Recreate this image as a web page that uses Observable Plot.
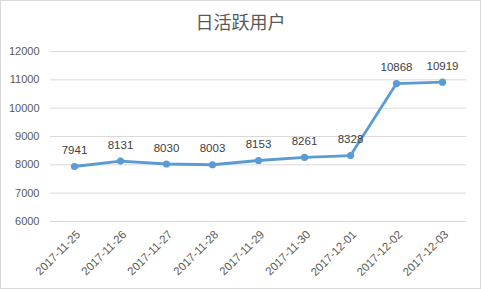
<!DOCTYPE html>
<html>
<head>
<meta charset="utf-8">
<script src="https://cdn.jsdelivr.net/npm/d3@7"></script>
<script src="https://cdn.jsdelivr.net/npm/@observablehq/plot@0.6"></script>
<style>
  html, body { margin: 0; padding: 0; background: #fff; }
  #frame { width: 481px; height: 289px; box-sizing: border-box; border: 1px solid #d9d9d9; background: #fff; overflow: hidden; }
  #title { height: 38px; line-height: 40px; text-align: center; font-family: "Noto Sans CJK SC", sans-serif; font-size: 18px; color: #595959; }
</style>
</head>
<body>
<div id="frame">
  <div id="title">日活跃用户</div>
  <div id="chart"></div>
</div>
<script>
const dates = ["2017-11-25","2017-11-26","2017-11-27","2017-11-28","2017-11-29","2017-11-30","2017-12-01","2017-12-02","2017-12-03"];
const users = [7941, 8131, 8030, 8003, 8153, 8261, 8328, 10868, 10919];
const yTicks = [6000, 7000, 8000, 9000, 10000, 11000, 12000];

const data = dates.map((d, i) => ({date: d, value: users[i]}));

const chart = Plot.plot({
  width: 479,
  height: 249,
  marginTop: 12,
  marginBottom: 67,
  marginLeft: 49,
  marginRight: 14,
  style: {fontFamily: "'Liberation Sans', Arial, sans-serif", fontSize: "11px", color: "#595959", background: "#fff"},
  x: {type: "point", domain: dates, padding: 0.5, label: null},
  y: {domain: [6000, 12000], ticks: yTicks, label: null},
  marks: [
    Plot.ruleY(yTicks, {stroke: "#d9d9d9", strokeWidth: 1}),
    Plot.axisY({ticks: yTicks, tickSize: 0, tickPadding: 11, label: null, tickFormat: d => String(d), fill: "#595959"}),
    Plot.axisX({tickSize: 0, tickPadding: 6, tickRotate: -45, label: null, fill: "#595959", fontSize: 11.5, dx: 4, dy: 5}),
    Plot.line(data, {x: "date", y: "value", stroke: "#5B9BD5", strokeWidth: 2.8}),
    Plot.dot(data, {x: "date", y: "value", r: 3.6, fill: "#5B9BD5", stroke: "none"}),
    Plot.text(data, {x: "date", y: "value", text: d => String(d.value), dy: -16, fill: "#404040", fontSize: 11.5})
  ]
});
document.getElementById("chart").appendChild(chart);
</script>
</body>
</html>
